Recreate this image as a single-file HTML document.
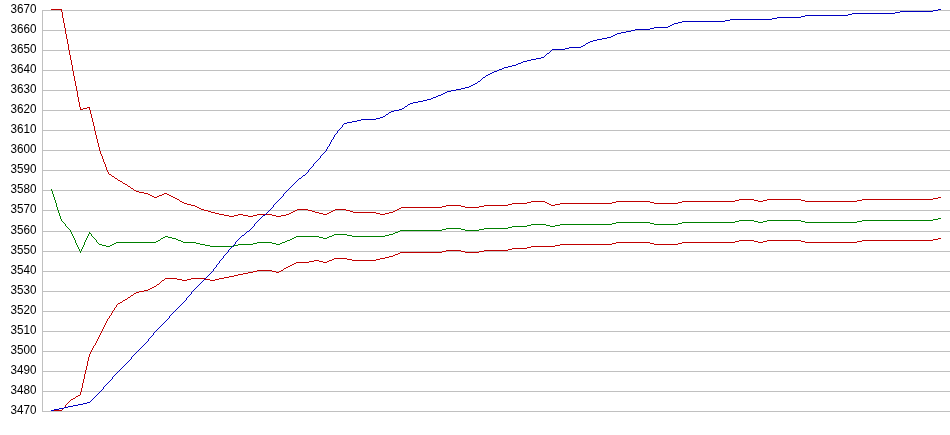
<!DOCTYPE html>
<html><head><meta charset="utf-8"><title>chart</title>
<style>
html,body{margin:0;padding:0;background:#fff;}
body{width:950px;height:435px;overflow:hidden;}
svg{display:block;}
text{font-family:"Liberation Sans",Arial,sans-serif;font-size:12.4px;fill:#000;}
</style></head><body>
<svg width="950" height="435" viewBox="0 0 950 435">
<rect width="950" height="435" fill="#fff"/>
<g stroke-width="1" shape-rendering="crispEdges" fill="none">
<path stroke="#c0c0c0" d="M42 10.5H950M42 30.5H950M42 50.5H950M42 70.5H950M42 90.5H950M42 110.5H950M42 130.5H950M42 150.5H950M42 170.5H950M42 190.5H950M42 210.5H950M42 231.5H950M42 251.5H950M42 271.5H950M42 291.5H950M42 311.5H950M42 331.5H950M42 351.5H950M42 371.5H950M42 391.5H950M42 411.5H950M42.5 10V412"/>
<path stroke="#008000" d="M938 218.5h3M933 219.5h5M739 220.5h15M767 220.5h34M862 220.5h71M735 221.5h4M754 221.5h4M763 221.5h4M801 221.5h4M857 221.5h5M616 222.5h34M682 222.5h53M758 222.5h5M805 222.5h52M612 223.5h4M650 223.5h4M678 223.5h4M531 224.5h15M560 224.5h52M654 224.5h24M527 225.5h4M546 225.5h4M555 225.5h5M512 226.5h15M550 226.5h5M508 227.5h4M446 228.5h15M484 228.5h24M442 229.5h4M461 229.5h4M479 229.5h5M400 230.5h42M465 230.5h14M398 231.5h2M395 232.5h3M89 233.5h2M393 233.5h2M334 234.5h13M389 234.5h4M332 235.5h2M347 235.5h5M385 235.5h4M165 236.5h3M296 236.5h23M329 236.5h3M352 236.5h33M163 237.5h2M168 237.5h4M294 237.5h2M319 237.5h4M327 237.5h2M161 238.5h2M172 238.5h4M292 238.5h2M323 238.5h4M176 239.5h2M290 239.5h2M158 240.5h2M178 240.5h3M287 240.5h3M156 241.5h2M181 241.5h2M285 241.5h2M116 242.5h40M183 242.5h13M257 242.5h15M282 242.5h3M114 243.5h2M196 243.5h4M253 243.5h4M272 243.5h4M280 243.5h2M99 244.5h3M112 244.5h2M200 244.5h5M238 244.5h15M276 244.5h4M102 245.5h4M110 245.5h2M205 245.5h5M234 245.5h4M106 246.5h4M210 246.5h22M51.5 189v2M52.5 191v3M53.5 194v3M54.5 197v3M55.5 200v3M56.5 203v4M57.5 207v3M58.5 210v3M59.5 213v3M60.5 216v3M61.5 219v2M62.5 221v1M63.5 222v1M64.5 223v1M65.5 224v2M66.5 226v1M67.5 227v1M68.5 228v1M69.5 229v1M70.5 230v2M71.5 232v2M72.5 234v2M73.5 236v2M74.5 238v2M75.5 240v3M76.5 243v2M77.5 245v2M78.5 247v2M79.5 249v2M80.5 251v2M81.5 249v2M82.5 247v2M83.5 245v2M84.5 242v3M85.5 240v2M86.5 238v2M87.5 236v2M88.5 234v2M89.5 232v1M91.5 234v2M92.5 236v1M93.5 237v1M94.5 238v1M95.5 239v1M96.5 240v2M97.5 242v1M98.5 243v1M160.5 239v1M233.5 246v1"/>
<path stroke="#c00000" d="M51 9.5h11M87 107.5h3M83 108.5h4M80 109.5h3M109 174.5h2M112 176.5h2M115 178.5h2M118 180.5h2M120 181.5h2M123 183.5h2M125 184.5h2M128 186.5h2M131 188.5h2M134 190.5h2M136 191.5h3M139 192.5h5M144 193.5h4M164 193.5h3M148 194.5h2M162 194.5h2M167 194.5h2M150 195.5h2M159 195.5h3M169 195.5h2M152 196.5h2M157 196.5h2M171 196.5h2M154 197.5h3M173 197.5h2M938 197.5h3M175 198.5h2M933 198.5h5M177 199.5h2M739 199.5h15M767 199.5h34M862 199.5h71M735 200.5h4M754 200.5h4M763 200.5h4M801 200.5h4M857 200.5h5M180 201.5h2M531 201.5h14M616 201.5h34M682 201.5h53M758 201.5h5M805 201.5h52M182 202.5h2M527 202.5h4M545 202.5h2M612 202.5h4M650 202.5h4M678 202.5h4M184 203.5h3M512 203.5h15M547 203.5h2M560 203.5h52M654 203.5h24M187 204.5h4M508 204.5h4M549 204.5h2M555 204.5h5M191 205.5h4M446 205.5h15M484 205.5h24M551 205.5h4M195 206.5h2M442 206.5h4M461 206.5h4M479 206.5h5M197 207.5h2M401 207.5h41M465 207.5h14M199 208.5h2M399 208.5h2M201 209.5h3M297 209.5h11M335 209.5h11M397 209.5h2M204 210.5h4M295 210.5h2M308 210.5h4M333 210.5h2M346 210.5h4M395 210.5h2M208 211.5h3M293 211.5h2M312 211.5h3M331 211.5h2M350 211.5h3M393 211.5h2M211 212.5h4M291 212.5h2M315 212.5h4M329 212.5h2M353 212.5h23M389 212.5h4M215 213.5h4M289 213.5h2M319 213.5h4M327 213.5h2M376 213.5h4M385 213.5h4M219 214.5h5M238 214.5h5M257 214.5h8M266 214.5h6M286 214.5h3M323 214.5h4M380 214.5h5M224 215.5h5M234 215.5h4M243 215.5h5M253 215.5h4M272 215.5h4M281 215.5h5M229 216.5h5M248 216.5h5M276 216.5h5M938 238.5h3M933 239.5h5M739 240.5h15M767 240.5h34M862 240.5h71M735 241.5h4M754 241.5h4M763 241.5h4M801 241.5h4M857 241.5h5M616 242.5h34M682 242.5h53M758 242.5h5M805 242.5h52M612 243.5h4M650 243.5h4M678 243.5h4M560 244.5h52M654 244.5h24M555 245.5h5M531 246.5h24M527 247.5h4M512 248.5h15M508 249.5h4M446 250.5h15M484 250.5h24M442 251.5h4M461 251.5h4M479 251.5h5M400 252.5h42M465 252.5h14M398 253.5h2M395 254.5h3M393 255.5h2M389 256.5h4M385 257.5h4M334 258.5h13M380 258.5h5M332 259.5h2M347 259.5h5M376 259.5h4M314 260.5h5M329 260.5h3M352 260.5h24M309 261.5h5M319 261.5h4M327 261.5h2M296 262.5h13M323 262.5h4M294 263.5h2M292 264.5h2M290 265.5h2M288 266.5h2M286 267.5h2M284 268.5h2M257 270.5h15M281 270.5h2M253 271.5h4M272 271.5h4M279 271.5h2M248 272.5h5M276 272.5h3M243 273.5h5M238 274.5h5M234 275.5h4M229 276.5h5M224 277.5h5M165 278.5h12M191 278.5h14M219 278.5h5M177 279.5h5M187 279.5h4M205 279.5h5M215 279.5h4M162 280.5h2M182 280.5h5M210 280.5h5M157 284.5h2M154 286.5h2M152 287.5h2M150 288.5h2M148 289.5h2M144 290.5h4M139 291.5h5M136 292.5h3M134 293.5h2M131 295.5h2M128 297.5h2M125 299.5h2M123 300.5h2M120 302.5h2M118 303.5h2M78 395.5h2M76 396.5h2M73 398.5h2M71 399.5h2M54 410.5h8M61.5 10v2M62.5 12v6M62.5 409v1M63.5 18v5M64.5 23v5M65.5 28v6M65.5 405v2M66.5 34v5M66.5 404v1M67.5 39v5M67.5 403v1M68.5 44v6M68.5 402v1M69.5 50v5M69.5 401v1M70.5 55v5M70.5 400v1M71.5 60v5M72.5 65v6M73.5 71v5M74.5 76v5M75.5 81v5M75.5 397v1M76.5 86v5M77.5 91v6M78.5 97v5M79.5 102v5M80.5 107v2M80.5 392v3M81.5 388v4M82.5 383v5M83.5 379v4M84.5 374v5M85.5 370v4M86.5 366v4M87.5 361v5M88.5 357v4M89.5 108v2M89.5 354v3M90.5 110v4M90.5 352v2M91.5 114v4M91.5 350v2M92.5 118v4M92.5 348v2M93.5 122v4M93.5 346v2M94.5 126v5M94.5 345v1M95.5 131v4M95.5 343v2M96.5 135v4M96.5 341v2M97.5 139v4M97.5 339v2M98.5 143v4M98.5 337v2M99.5 147v4M99.5 335v2M100.5 151v3M100.5 333v2M101.5 154v2M101.5 331v2M102.5 156v3M102.5 329v2M103.5 159v3M103.5 327v2M104.5 162v2M104.5 325v2M105.5 164v3M105.5 323v2M106.5 167v3M106.5 321v2M107.5 170v2M107.5 319v2M108.5 172v2M108.5 318v1M109.5 316v2M110.5 315v1M111.5 175v1M111.5 313v2M112.5 311v2M113.5 310v1M114.5 177v1M114.5 308v2M115.5 307v1M116.5 305v2M117.5 179v1M117.5 304v1M122.5 182v1M122.5 301v1M127.5 185v1M127.5 298v1M130.5 187v1M130.5 296v1M133.5 189v1M133.5 294v1M156.5 285v1M159.5 283v1M160.5 282v1M161.5 281v1M164.5 279v1M179.5 200v1M283.5 269v1"/>
<path stroke="#0000c0" d="M938 9.5h3M933 10.5h5M900 11.5h33M895 12.5h5M852 13.5h43M848 14.5h4M805 15.5h43M801 16.5h4M777 17.5h24M772 18.5h5M730 19.5h42M725 20.5h5M682 21.5h43M678 22.5h4M674 23.5h4M672 24.5h2M670 25.5h2M668 26.5h2M654 27.5h14M650 28.5h4M635 29.5h15M631 30.5h4M626 31.5h5M621 32.5h5M617 33.5h4M615 34.5h2M613 35.5h2M611 36.5h2M607 37.5h4M602 38.5h5M597 39.5h5M593 40.5h4M590 41.5h3M588 42.5h2M586 43.5h2M583 45.5h2M581 46.5h2M569 47.5h12M565 48.5h4M552 49.5h13M547 53.5h2M541 57.5h3M536 58.5h5M531 59.5h5M527 60.5h4M523 61.5h4M521 62.5h2M518 63.5h3M516 64.5h2M512 65.5h4M508 66.5h4M504 67.5h4M502 68.5h2M499 69.5h3M497 70.5h2M494 71.5h3M492 72.5h2M490 73.5h2M488 74.5h2M486 75.5h2M483 77.5h2M478 81.5h2M475 83.5h2M473 84.5h2M471 85.5h2M469 86.5h2M465 87.5h4M461 88.5h4M456 89.5h5M451 90.5h5M447 91.5h4M445 92.5h2M443 93.5h2M441 94.5h2M438 95.5h3M436 96.5h2M433 97.5h3M431 98.5h2M427 99.5h4M423 100.5h4M418 101.5h5M413 102.5h5M410 103.5h3M408 104.5h2M405 106.5h2M402 108.5h2M399 109.5h3M394 110.5h5M391 111.5h3M389 112.5h2M386 114.5h2M383 116.5h2M380 117.5h3M376 118.5h4M361 119.5h15M357 120.5h4M352 121.5h5M347 122.5h5M344 123.5h3M303 175.5h2M299 178.5h2M263 215.5h2M247 231.5h2M242 235.5h2M87 402.5h3M83 403.5h4M78 404.5h5M73 405.5h5M68 406.5h5M64 407.5h4M59 408.5h5M54 409.5h5M51 410.5h3M90.5 401v1M91.5 400v1M92.5 399v1M93.5 398v1M94.5 397v1M95.5 396v1M96.5 395v1M97.5 394v1M98.5 393v1M99.5 392v1M100.5 391v1M101.5 390v1M102.5 389v1M103.5 387v2M104.5 386v1M105.5 385v1M106.5 384v1M107.5 383v1M108.5 382v1M109.5 381v1M110.5 380v1M111.5 379v1M112.5 377v2M113.5 376v1M114.5 375v1M115.5 374v1M116.5 373v1M117.5 372v1M118.5 371v1M119.5 370v1M120.5 369v1M121.5 368v1M122.5 367v1M123.5 366v1M124.5 365v1M125.5 364v1M126.5 363v1M127.5 362v1M128.5 361v1M129.5 360v1M130.5 359v1M131.5 357v2M132.5 356v1M133.5 355v1M134.5 354v1M135.5 353v1M136.5 352v1M137.5 351v1M138.5 350v1M139.5 349v1M140.5 348v1M141.5 347v1M142.5 346v1M143.5 345v1M144.5 344v1M145.5 343v1M146.5 342v1M147.5 341v1M148.5 339v2M149.5 338v1M150.5 337v1M151.5 336v1M152.5 335v1M153.5 333v2M154.5 332v1M155.5 331v1M156.5 330v1M157.5 329v1M158.5 328v1M159.5 327v1M160.5 326v1M161.5 325v1M162.5 324v1M163.5 323v1M164.5 322v1M165.5 321v1M166.5 320v1M167.5 319v1M168.5 318v1M169.5 316v2M170.5 315v1M171.5 314v1M172.5 313v1M173.5 312v1M174.5 311v1M175.5 310v1M176.5 309v1M177.5 308v1M178.5 307v1M179.5 306v1M180.5 305v1M181.5 304v1M182.5 303v1M183.5 302v1M184.5 301v1M185.5 300v1M186.5 298v2M187.5 297v1M188.5 296v1M189.5 295v1M190.5 294v1M191.5 292v2M192.5 291v1M193.5 290v1M194.5 289v1M195.5 288v1M196.5 287v1M197.5 286v1M198.5 285v1M199.5 284v1M200.5 283v1M201.5 282v1M202.5 281v1M203.5 280v1M204.5 279v1M205.5 278v1M206.5 277v1M207.5 276v1M208.5 275v1M209.5 274v1M210.5 273v1M211.5 272v1M212.5 271v1M213.5 269v2M214.5 268v1M215.5 267v1M216.5 265v2M217.5 264v1M218.5 263v1M219.5 261v2M220.5 260v1M221.5 259v1M222.5 258v1M223.5 256v2M224.5 255v1M225.5 254v1M226.5 253v1M227.5 252v1M228.5 250v2M229.5 249v1M230.5 248v1M231.5 247v1M232.5 246v1M233.5 245v1M234.5 244v1M235.5 242v2M236.5 241v1M237.5 240v1M238.5 239v1M239.5 238v1M240.5 237v1M241.5 236v1M244.5 234v1M245.5 233v1M246.5 232v1M249.5 230v1M250.5 229v1M251.5 228v1M252.5 227v1M253.5 226v1M254.5 224v2M255.5 223v1M256.5 222v1M257.5 221v1M258.5 220v1M259.5 219v1M260.5 218v1M261.5 217v1M262.5 216v1M265.5 214v1M266.5 213v1M267.5 212v1M268.5 211v1M269.5 210v1M270.5 209v1M271.5 208v1M272.5 207v1M273.5 205v2M274.5 204v1M275.5 203v1M276.5 202v1M277.5 201v1M278.5 200v1M279.5 199v1M280.5 198v1M281.5 197v1M282.5 196v1M283.5 194v2M284.5 193v1M285.5 192v1M286.5 191v1M287.5 190v1M288.5 189v1M289.5 188v1M290.5 187v1M291.5 186v1M292.5 185v1M293.5 184v1M294.5 183v1M295.5 182v1M296.5 181v1M297.5 180v1M298.5 179v1M301.5 177v1M302.5 176v1M305.5 174v1M306.5 173v1M307.5 172v1M308.5 170v2M309.5 169v1M310.5 168v1M311.5 167v1M312.5 166v1M313.5 164v2M314.5 163v1M315.5 162v1M316.5 161v1M317.5 160v1M318.5 159v1M319.5 158v1M320.5 156v2M321.5 155v1M322.5 154v1M323.5 153v1M324.5 152v1M325.5 151v1M326.5 149v2M327.5 147v2M328.5 146v1M329.5 144v2M330.5 142v2M331.5 140v2M332.5 139v1M333.5 137v2M334.5 135v2M335.5 134v1M336.5 133v1M337.5 131v2M338.5 130v1M339.5 129v1M340.5 128v1M341.5 127v1M342.5 125v2M343.5 124v1M385.5 115v1M388.5 113v1M404.5 107v1M407.5 105v1M477.5 82v1M480.5 80v1M481.5 79v1M482.5 78v1M485.5 76v1M544.5 56v1M545.5 55v1M546.5 54v1M549.5 52v1M550.5 51v1M551.5 50v1M585.5 44v1"/>
</g>
<g>
<text x="10.4" y="12.9" textLength="26" lengthAdjust="spacingAndGlyphs">3670</text>
<text x="10.4" y="32.9" textLength="26" lengthAdjust="spacingAndGlyphs">3660</text>
<text x="10.4" y="52.9" textLength="26" lengthAdjust="spacingAndGlyphs">3650</text>
<text x="10.4" y="72.9" textLength="26" lengthAdjust="spacingAndGlyphs">3640</text>
<text x="10.4" y="92.9" textLength="26" lengthAdjust="spacingAndGlyphs">3630</text>
<text x="10.4" y="112.9" textLength="26" lengthAdjust="spacingAndGlyphs">3620</text>
<text x="10.4" y="132.9" textLength="26" lengthAdjust="spacingAndGlyphs">3610</text>
<text x="10.4" y="152.9" textLength="26" lengthAdjust="spacingAndGlyphs">3600</text>
<text x="10.4" y="172.9" textLength="26" lengthAdjust="spacingAndGlyphs">3590</text>
<text x="10.4" y="192.9" textLength="26" lengthAdjust="spacingAndGlyphs">3580</text>
<text x="10.4" y="212.9" textLength="26" lengthAdjust="spacingAndGlyphs">3570</text>
<text x="10.4" y="233.9" textLength="26" lengthAdjust="spacingAndGlyphs">3560</text>
<text x="10.4" y="253.9" textLength="26" lengthAdjust="spacingAndGlyphs">3550</text>
<text x="10.4" y="273.9" textLength="26" lengthAdjust="spacingAndGlyphs">3540</text>
<text x="10.4" y="293.9" textLength="26" lengthAdjust="spacingAndGlyphs">3530</text>
<text x="10.4" y="313.9" textLength="26" lengthAdjust="spacingAndGlyphs">3520</text>
<text x="10.4" y="333.9" textLength="26" lengthAdjust="spacingAndGlyphs">3510</text>
<text x="10.4" y="353.9" textLength="26" lengthAdjust="spacingAndGlyphs">3500</text>
<text x="10.4" y="373.9" textLength="26" lengthAdjust="spacingAndGlyphs">3490</text>
<text x="10.4" y="393.9" textLength="26" lengthAdjust="spacingAndGlyphs">3480</text>
<text x="10.4" y="413.9" textLength="26" lengthAdjust="spacingAndGlyphs">3470</text>
</g>
</svg>
</body></html>
